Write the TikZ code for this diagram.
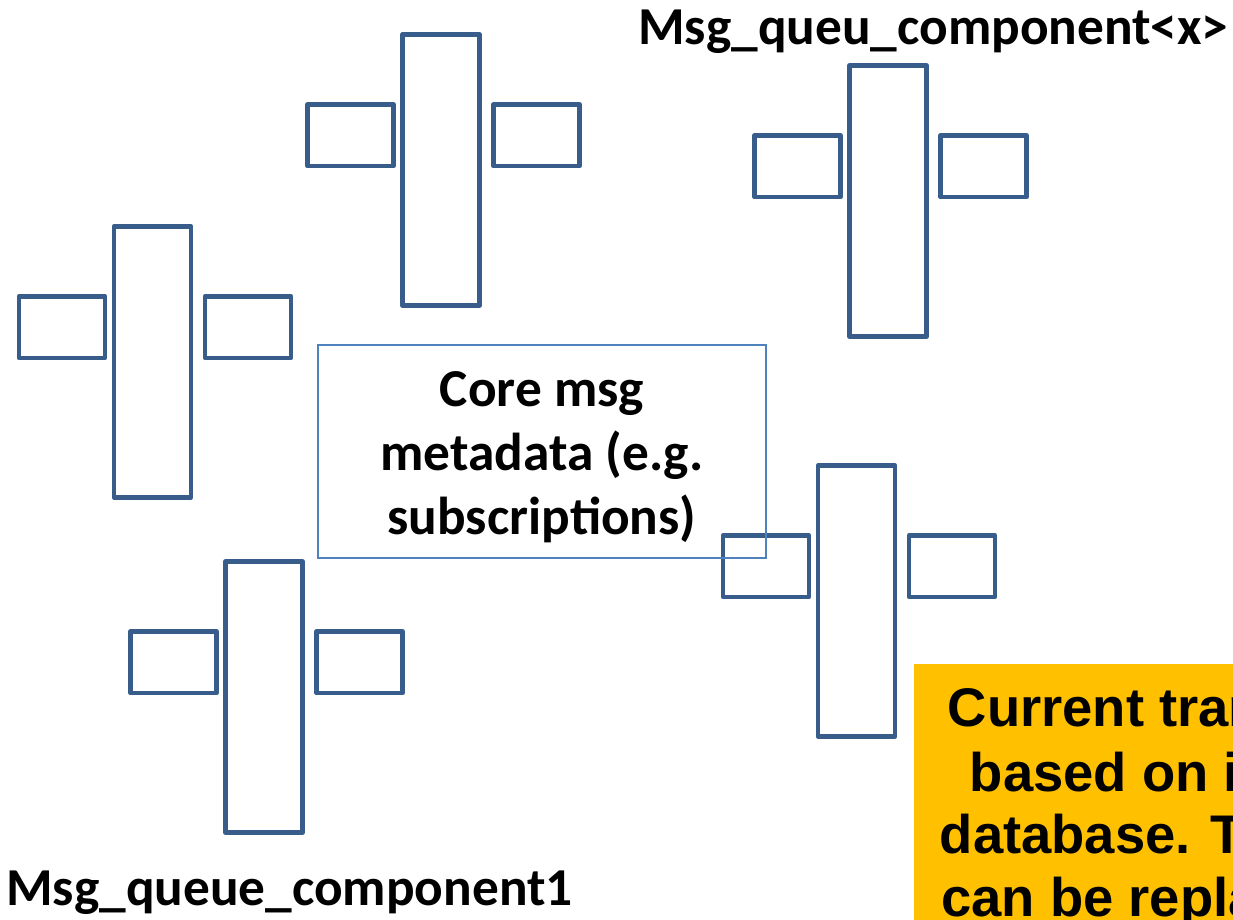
\documentclass[tikz,border=0pt]{standalone}
\usepackage{fontspec}
\setmainfont{Carlito}
\newfontfamily\notefont{Liberation Sans}

\definecolor{compblue}{HTML}{385D8A}
\definecolor{coreblue}{HTML}{4F81BD}
\definecolor{notegold}{HTML}{FFC000}

\tikzset{
  part/.style={draw=compblue, line width=3.4pt, line join=round},
  corebox/.style={draw=coreblue, line width=1.4pt},
  complabel/.style={font=\fontsize{40pt}{48pt}\selectfont\bfseries, anchor=base west, inner sep=0pt},
  coretext/.style={font=\fontsize{40pt}{48pt}\selectfont\bfseries, align=center, inner sep=0pt},
  noteline/.style={font=\notefont\fontsize{40.8pt}{47.5pt}\selectfont\bfseries, anchor=base west, inner sep=0pt},
}

% one message-queue component: a tall bar flanked by two small boxes
\newcommand\msgcomponent[2]{%
  \begin{scope}[shift={(#1,#2)}]
    \draw[part] (0,0) rectangle (77,271);
    \draw[part] (-95,70) rectangle (-9,131.5);
    \draw[part] (91,70) rectangle (177,131.5);
  \end{scope}}

\begin{document}
\begin{tikzpicture}[x=0.75pt, y=-0.75pt]
  \useasboundingbox (0,0) rectangle (1233,920);
  \clip (0,0) rectangle (1233,920);

  % components
  \msgcomponent{402.5}{34.5}
  \msgcomponent{849.5}{65.5}
  \msgcomponent{114}{226.3}
  \msgcomponent{225.5}{561.5}
  \msgcomponent{818}{465.5}

  % shared metadata store
  \draw[corebox] (318,345) rectangle (766,558);
  \node[coretext] (core) at (542,457) {Core msg\\metadata (e.g.\\subscriptions)};

  % component labels
  \node[complabel] (labx) at (638,45) {Msg\_queu\_component<x>};
  \node[complabel] (lab1) at (6,905) {Msg\_queue\_component1};

  % note box
  \fill[notegold] (914,664) rectangle (1300,960);
  \node[noteline] (n1) at (947.5,726.7) {Current tran};
  \node[noteline] (n2) at (969.5,791.7) {based on i};
  \node[noteline] (n3) at (939.5,853) {database. T};
  \node[noteline] (n4) at (941,916.7) {can be repla};
\end{tikzpicture}
\end{document}
